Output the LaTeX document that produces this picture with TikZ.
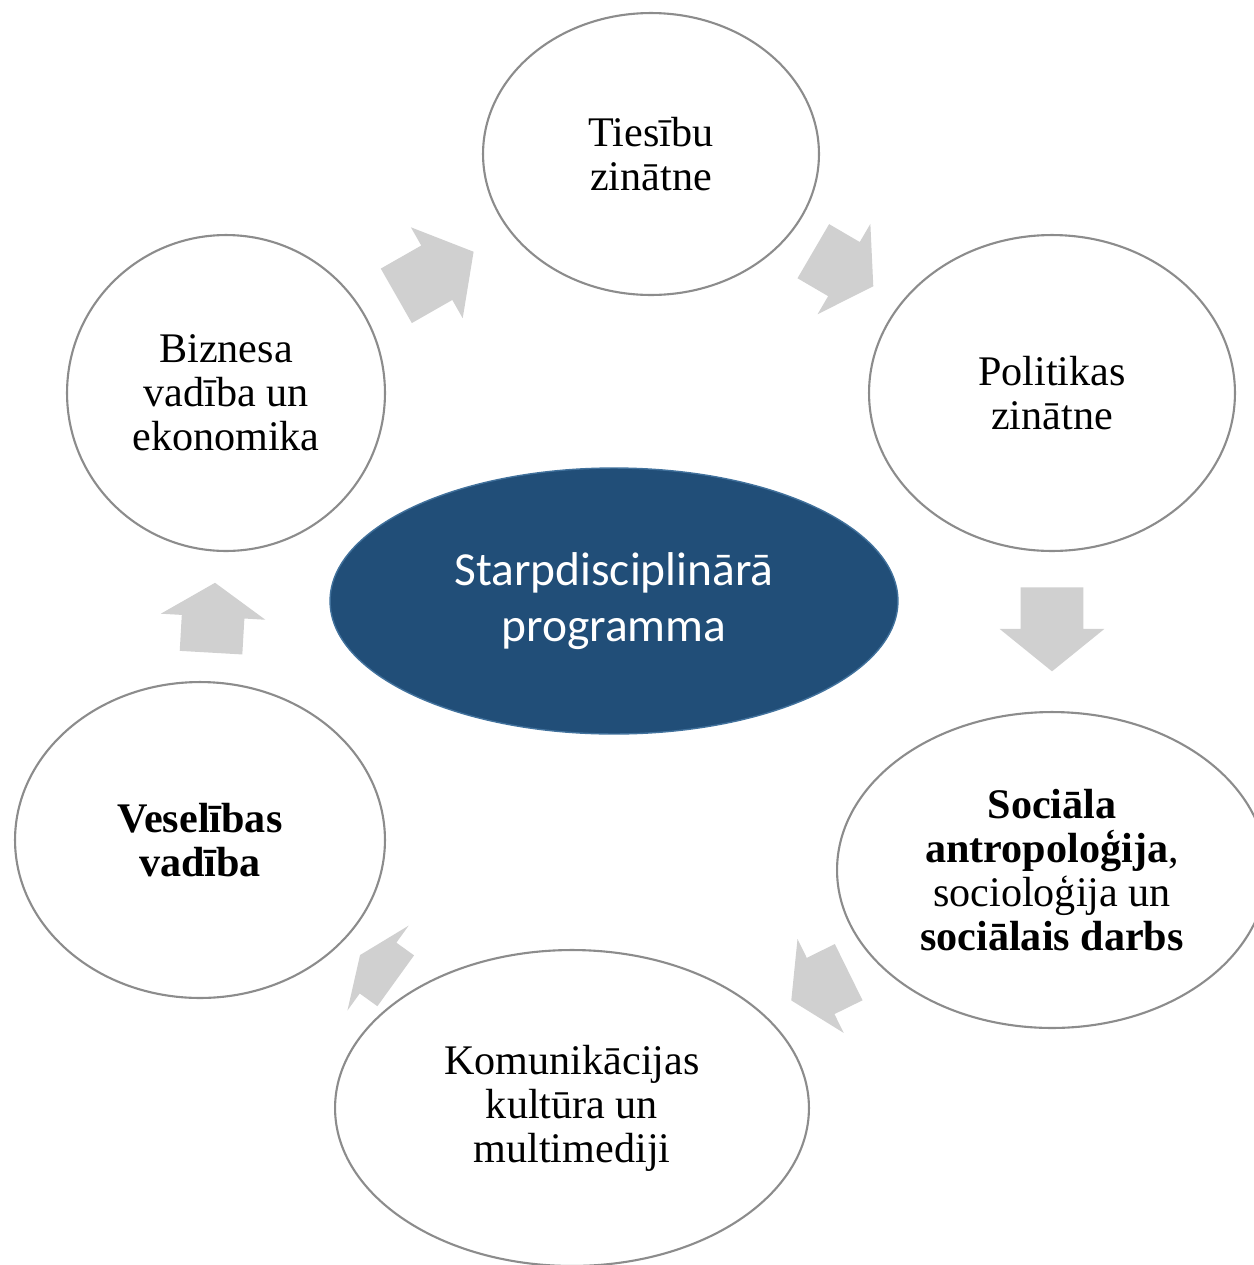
\documentclass[tikz,border=0pt]{standalone}
\usepackage{fontspec}
\setmainfont{Liberation Serif}
\newfontfamily\calib{Carlito}
\usetikzlibrary{shapes.geometric,shapes.arrows}

\definecolor{ringgray}{RGB}{140,140,140}
\definecolor{arrowgray}{RGB}{208,208,208}
\definecolor{progblue}{RGB}{33,78,120}
\definecolor{progedge}{RGB}{65,113,156}

\tikzset{
  field/.style={ellipse, draw=ringgray, line width=1.2pt, fill=white, inner sep=0pt,
    align=center, font=\fontsize{24}{25}\selectfont},
  turn/.style={single arrow, fill=arrowgray, inner xsep=0pt, inner ysep=0.62cm,
    single arrow head extend=0.42cm, anchor=tail}
}

\begin{document}
\begin{tikzpicture}[x=0.02cm, y=-0.02cm]
  \path[use as bounding box, clip] (0,0) rectangle (1254,1265);

  % study fields round the programme
  \node[field, minimum width=6.72cm, minimum height=5.64cm] (ties) at (651,154) {Tiesību\\zinātne};
  \node[field, minimum width=7.32cm, minimum height=6.32cm] (pol) at (1052,393) {Politikas\\zinātne};
  \node[field, minimum width=8.6cm, minimum height=6.32cm] (soc) at (1052,870)
    {\textbf{Sociāla}\\\textbf{antropoloģija},\\socioloģija un\\\textbf{sociālais darbs}};
  \node[field, minimum width=9.48cm, minimum height=6.32cm] (kom) at (572,1108) {Komunikācijas\\kultūra un\\multimediji};
  \node[field, minimum width=7.4cm, minimum height=6.32cm] (ves) at (200,840) {\textbf{Veselības}\\\textbf{vadība}};
  \node[field, minimum width=6.36cm, minimum height=6.32cm] (biz) at (226,393) {Biznesa\\vadība un\\ekonomika};

  \node[ellipse, fill=progblue, draw=progedge, line width=0.8pt, minimum width=11.36cm, minimum height=5.32cm,
    align=center, text=white, font=\calib\fontsize{27}{32}\selectfont] (prog) at (614,601)
    {Starpdisciplinārā\\programma};

  \node[turn, minimum height=1.78cm, single arrow tip angle=102, rotate=29.7] (a1) at (396,296) {};
  \node[turn, minimum height=1.39cm, single arrow tip angle=114, rotate=-30.3] (a2) at (813,251) {};
  \node[turn, minimum height=1.68cm, single arrow tip angle=102, rotate=-90] (a3) at (1052,587) {};
  \node[turn, minimum height=1.28cm, single arrow tip angle=116, rotate=206.2] (a4) at (849,972) {};
  \node[turn, minimum height=0.88cm, single arrow tip angle=134, rotate=144.2] (a5) at (396,981) {};
  \node[turn, minimum height=1.4cm, single arrow tip angle=114, rotate=86.7] (a6) at (211,653) {};
\end{tikzpicture}
\end{document}
